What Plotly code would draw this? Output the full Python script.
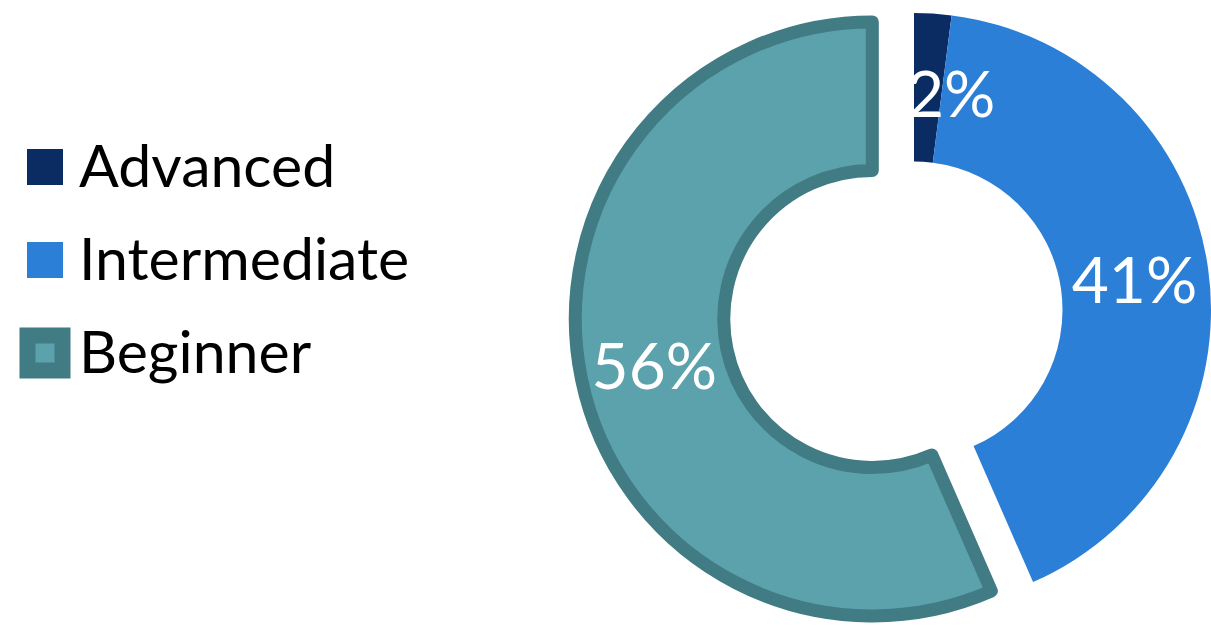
import math
import plotly.graph_objects as go

# ---- data ----
levels = ["Advanced", "Intermediate", "Beginner"]
shares = [2, 41, 56]          # percent labels shown on the chart
fill_colors = ["#0b2c63", "#2b7fd7", "#5ba2ad"]
beginner_line = "#417b84"

W, H = 1211, 627
FONT = "Lato"

def dom(cx, cy, r):
    return dict(x=[(cx - r) / W, (cx + r) / W],
                y=[1 - (cy + r) / H, 1 - (cy - r) / H])

R = 297
HOLE = 0.5
CX, CY = 914, 310
transparent = "rgba(0,0,0,0)"

fig = go.Figure()

# main ring: Advanced + Intermediate (Beginner slice kept as empty space)
fig.add_trace(go.Pie(
    labels=levels, values=shares, sort=False, direction="clockwise", rotation=0,
    hole=HOLE, domain=dom(CX, CY, R),
    marker=dict(colors=[fill_colors[0], fill_colors[1], transparent],
                line=dict(width=0, color=transparent)),
    texttemplate=["", "%{value}%", ""],
    textposition="inside", insidetextorientation="horizontal",
    textfont=dict(family=FONT, size=64, color="white"),
    showlegend=False, hoverinfo="skip",
))

# exploded Beginner slice
fig.add_trace(go.Pie(
    labels=levels, values=shares, sort=False, direction="clockwise", rotation=0,
    hole=HOLE, domain=dom(872.3, 318.9, R),
    marker=dict(colors=[transparent, transparent, fill_colors[2]],
                line=dict(width=[0, 0, 13], color=[transparent, transparent, beginner_line])),
    texttemplate=["", "", "%{value}%"],
    textposition="inside", insidetextorientation="horizontal",
    textfont=dict(family=FONT, size=64, color="white"),
    showlegend=False, hoverinfo="skip",
))

# label of the thin Advanced slice, placed from its mid angle
total = sum(shares)
mid = 2 * math.pi * (shares[0] / 2) / total
rmid = R * (1 + HOLE) / 2
lx = CX + rmid * math.sin(mid) + 23
ly = CY - rmid * math.cos(mid) + 5
fig.add_annotation(
    x=lx / W, y=1 - ly / H, xref="paper", yref="paper",
    xanchor="center", yanchor="middle", showarrow=False,
    text=f"{shares[0]}%", font=dict(family=FONT, size=64, color="white"),
)

# legend drawn as a scatter of squares + labels
idx = list(range(len(levels)))
fig.add_trace(go.Scatter(
    x=[0] * len(levels), y=idx, mode="markers",
    marker=dict(symbol="square", size=[36, 36, 35], color=fill_colors, opacity=1,
                line=dict(width=[0, 0, 16], color=[transparent, transparent, beginner_line])),
    showlegend=False, hoverinfo="skip", cliponaxis=False,
))
fig.add_trace(go.Scatter(
    x=[1] * len(levels), y=idx, mode="text", text=levels,
    textposition="middle right", yaxis="y2",
    textfont=dict(family=FONT, size=59, color="black"),
    showlegend=False, hoverinfo="skip", cliponaxis=False,
))

px_per_x = 34.0
px_per_y = 93.0
xdom_px = 0.45 * W
y0 = 167
ty0 = 172
fig.update_layout(
    width=W, height=H,
    margin=dict(l=0, r=0, t=0, b=0),
    paper_bgcolor="white", plot_bgcolor="white",
    uniformtext=dict(minsize=64, mode="show"),
    xaxis=dict(domain=[0, 0.45], visible=False,
               range=[-45 / px_per_x, (xdom_px - 45) / px_per_x]),
    yaxis=dict(domain=[0, 1], visible=False,
               range=[(H - y0) / px_per_y, -y0 / px_per_y]),
    yaxis2=dict(domain=[0, 1], visible=False, overlaying="y",
                range=[(H - ty0) / px_per_y, -ty0 / px_per_y]),
)

fig.write_html("out.html")
